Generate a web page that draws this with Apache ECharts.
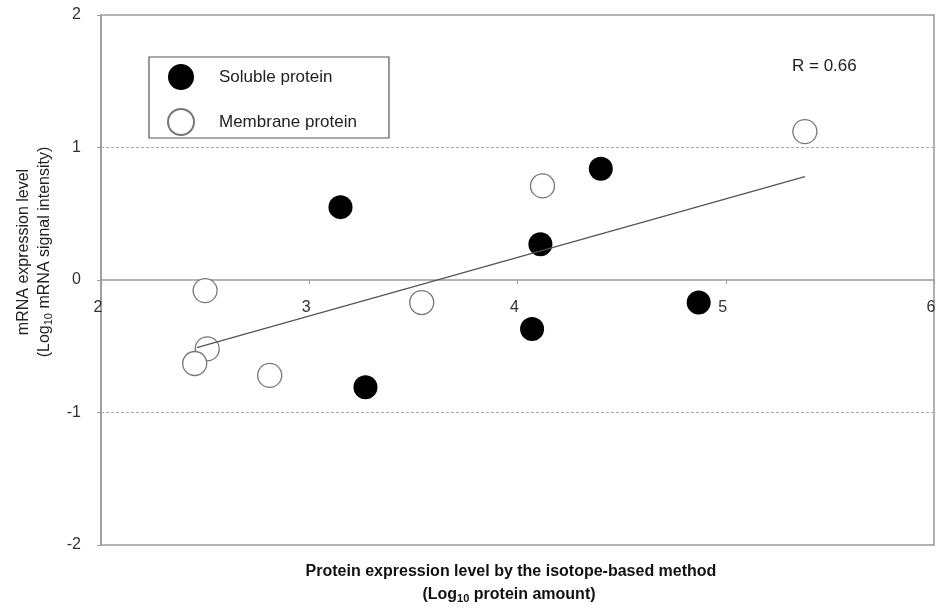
<!DOCTYPE html>
<html>
<head>
<meta charset="utf-8">
<script src="https://cdn.jsdelivr.net/npm/echarts@6/dist/echarts.min.js"></script>
<style>
  html, body { margin: 0; padding: 0; background: #fff; }
  #main { width: 948px; height: 609px; }
</style>
</head>
<body>
<div id="main"></div>
<script>
// data (log10 protein amount, log10 mRNA signal)
var solubleX = [3.15, 4.40, 4.11, 4.07, 4.87, 3.27];
var solubleY = [0.55, 0.84, 0.27, -0.37, -0.17, -0.81];
var membraneX = [5.38, 4.12, 2.50, 3.54, 2.51, 2.45, 2.81];
var membraneY = [1.12, 0.71, -0.08, -0.17, -0.52, -0.63, -0.72];
// regression line end points
var trendX = [2.46, 5.38];
var trendY = [-0.51, 0.78];
var xTicks = [2, 3, 4, 5, 6];
var yTicks = [-2, -1, 0, 1, 2];
var guideY = [1, -1];

function pairs(xs, ys) {
  return xs.map(function (x, i) { return [x, ys[i]]; });
}

var myChart = echarts.init(document.getElementById("main"));
var gray = "#9a9a9a";
var font = "Liberation Sans, Arial, sans-serif";
var gridTop = 15, gridBottom = 64, chartH = 609;
// x axis sits on y = 0 -> shift it up from the bottom of the grid
var plotH = chartH - gridTop - gridBottom;
var zeroShift = plotH * (0 - yTicks[0]) / (yTicks[yTicks.length - 1] - yTicks[0]);

var option = {
  animation: false,
  textStyle: { fontFamily: font },
  grid: {
    left: 101, right: 14, top: gridTop, bottom: gridBottom,
    show: true,
    borderColor: gray,
    borderWidth: 1.5
  },
  legend: {
    data: ["Soluble protein", "Membrane protein"],
    orient: "vertical",
    left: 149, top: 57,
    padding: [7, 32, 2, 18],
    itemWidth: 26, itemHeight: 26, itemGap: 18,
    borderColor: "#555", borderWidth: 1.2,
    textStyle: { fontSize: 17, color: "#222", fontFamily: font, padding: [0, 0, 0, 20] }
  },
  xAxis: {
    type: "value",
    min: xTicks[0], max: xTicks[xTicks.length - 1], interval: 1,
    offset: -zeroShift,
    axisLine: { onZero: false, lineStyle: { color: gray, width: 1.5 } },
    axisTick: { show: true, length: 4, lineStyle: { color: gray } },
    axisLabel: { fontSize: 16, color: "#333", margin: 20, padding: [0, 6, 0, 0] },
    splitLine: { show: false }
  },
  yAxis: {
    type: "value",
    min: yTicks[0], max: yTicks[yTicks.length - 1], interval: 1,
    axisLine: { show: true, onZero: false, lineStyle: { color: gray, width: 1.5 } },
    axisTick: { show: true, length: 4, lineStyle: { color: gray } },
    axisLabel: { fontSize: 16, color: "#333", margin: 20 },
    splitLine: { show: false }
  },
  series: [
    {
      name: "Soluble protein",
      type: "scatter",
      symbol: "circle",
      symbolSize: 24,
      itemStyle: { color: "#000", opacity: 1 },
      data: pairs(solubleX, solubleY),
      z: 3
    },
    {
      name: "Membrane protein",
      type: "scatter",
      symbol: "circle",
      symbolSize: 24,
      itemStyle: { color: "#fff", borderColor: "#777", borderWidth: 1.3, opacity: 1 },
      data: pairs(membraneX, membraneY),
      z: 3
    },
    {
      name: "trend",
      type: "line",
      showSymbol: false,
      symbol: "none",
      lineStyle: { color: "#555", width: 1.3 },
      data: pairs(trendX, trendY),
      z: 4,
      markLine: {
        silent: true,
        symbol: "none",
        label: { show: false },
        lineStyle: { color: "#aaa", width: 1, type: [3, 2] },
        data: guideY.map(function (v) { return { yAxis: v }; })
      }
    }
  ],
  graphic: [
    {
      type: "text", left: 792, top: 58,
      style: { text: "R = 0.66", font: "17px " + font, fill: "#222" }
    },
    {
      type: "text", x: 24, y: 252, rotation: Math.PI / 2,
      style: { text: "mRNA expression level", font: "16px " + font, fill: "#222", align: "center", verticalAlign: "middle" }
    },
    {
      type: "text", x: 45, y: 252, rotation: Math.PI / 2,
      style: {
        text: "(Log{sub|10} mRNA signal intensity)",
        font: "16px " + font, fill: "#222", align: "center", verticalAlign: "middle",
        rich: { sub: { fontSize: 11, fontFamily: font, fill: "#222", padding: [7, 0, 0, 0] } }
      }
    },
    {
      type: "text", x: 511, y: 572,
      style: { text: "Protein expression level by the isotope-based method", font: "bold 16px " + font, fill: "#111", align: "center", verticalAlign: "middle" }
    },
    {
      type: "text", x: 509, y: 595,
      style: {
        text: "(Log{sub|10} protein amount)",
        font: "bold 16px " + font, fill: "#111", align: "center", verticalAlign: "middle",
        rich: { sub: { fontSize: 11, fontWeight: "bold", fontFamily: font, fill: "#111", padding: [7, 0, 0, 0] } }
      }
    }
  ]
};

myChart.setOption(option);
</script>
</body>
</html>
